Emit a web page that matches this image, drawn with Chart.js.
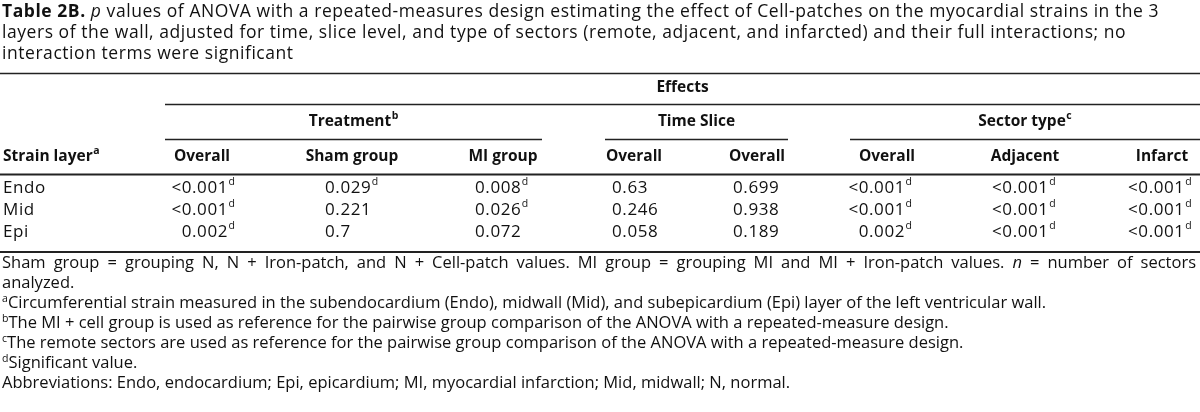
<!DOCTYPE html>
<html>
<head>
<meta charset="utf-8">
<script src="https://cdn.jsdelivr.net/npm/chart.js@4.4.1/dist/chart.umd.min.js"></script>
<style>
  body { margin: 0; background: #fff; width: 1200px; height: 412px; overflow: hidden; font-family: "Open Sans", sans-serif; color: #111; }
  .wrap { position: absolute; left: 0; top: 0; width: 1200px; height: 412px; }
  #title { position: absolute; left: 2px; top: 0; font-size: 17.5px; letter-spacing: 0.55px; line-height: 21px; white-space: nowrap; }
  #notes { position: absolute; left: 2px; top: 252px; font-size: 16.5px; line-height: 20px; white-space: nowrap; }
  #notes .just { width: 1194px; text-align: justify; text-align-last: justify; }
  sup { font-size: 64%; line-height: 0; vertical-align: 0.55em; letter-spacing: 0; }
</style>
</head>
<body>
<div class="wrap"><canvas id="myChart"></canvas></div>
<div id="title">
  <b>Table 2B.</b> <i>p</i> values of ANOVA with a repeated-measures design estimating the effect of Cell-patches on the myocardial strains in the 3<br>
  layers of the wall, adjusted for time, slice level, and type of sectors (remote, adjacent, and infarcted) and their full interactions; no<br>
  interaction terms were significant
</div>
<div id="notes">
  <div class="just">Sham group = grouping N, N + Iron-patch, and N + Cell-patch values. MI group = grouping MI and MI + Iron-patch values. <i>n</i> = number of sectors</div>
  analyzed.<br>
  <sup>a</sup>Circumferential strain measured in the subendocardium (Endo), midwall (Mid), and subepicardium (Epi) layer of the left ventricular wall.<br>
  <sup>b</sup>The MI + cell group is used as reference for the pairwise group comparison of the ANOVA with a repeated-measure design.<br>
  <sup>c</sup>The remote sectors are used as reference for the pairwise group comparison of the ANOVA with a repeated-measure design.<br>
  <sup>d</sup>Significant value.<br>
  Abbreviations: Endo, endocardium; Epi, epicardium; MI, myocardial infarction; Mid, midwall; N, normal.
</div>
<script>
// table content
const layers = ["Endo", "Mid", "Epi"];
const layerHeader = "Strain layer";
const effectsLabel = "Effects";
const groupLabels = ["Treatment", "Time Slice", "Sector type"];
const groupNotes = ["b", "", "c"];
const columnLabels = ["Overall", "Sham group", "MI group", "Overall", "Overall", "Overall", "Adjacent", "Infarct"];

// p values, rows in the order of layers
const treatOverall = ["<0.001", "<0.001", "0.002"];
const treatSham = ["0.029", "0.221", "0.7"];
const treatMI = ["0.008", "0.026", "0.072"];
const timeOverall = ["0.63", "0.246", "0.058"];
const sliceOverall = ["0.699", "0.938", "0.189"];
const sectorOverall = ["<0.001", "<0.001", "0.002"];
const sectorAdjacent = ["<0.001", "<0.001", "<0.001"];
const sectorInfarct = ["<0.001", "<0.001", "<0.001"];

const columns = [treatOverall, treatSham, treatMI, timeOverall, sliceOverall, sectorOverall, sectorAdjacent, sectorInfarct];
const isSignificant = (p) => p.startsWith("<") || parseFloat(p) < 0.05;

// layout of the table (x scale runs 0..1200)
const colAnchor = [235, 325, 475, 612, 733, 912, 992, 1128];
const colAlign = ["right", "left", "left", "left", "left", "right", "left", "left"];
const colCenter = [202, 352, 503, 634, 757, 887, 1025, 1162];
const groupSpan = [[165, 542], [605, 788], [850, 1200]];
const effectsSpan = [165, 1200];
const headerY = [88, 122, 157];
const rules = [
  { y: 73.5, from: 0, to: 1200, w: 1.3 },
  { y: 104.5, from: effectsSpan[0], to: effectsSpan[1], w: 1.3 },
  { y: 139.5, from: groupSpan[0][0], to: groupSpan[0][1], w: 1.3 },
  { y: 139.5, from: groupSpan[1][0], to: groupSpan[1][1], w: 1.3 },
  { y: 139.5, from: groupSpan[2][0], to: groupSpan[2][1], w: 1.3 },
  { y: 174.5, from: 0, to: 1200, w: 2 },
  { y: 252, from: 0, to: 1200, w: 2.2 },
];

const FONT = '"Open Sans", sans-serif';
const INK = "#111";

function drawSup(ctx, text, sup, x, y, align, bold) {
  const main = bold ? `bold 15.5px ${FONT}` : `17px ${FONT}`;
  const small = `${bold ? "bold " : ""}10.5px ${FONT}`;
  const spacing = bold ? "0px" : "0.6px";
  ctx.letterSpacing = spacing;
  ctx.font = main;
  const w1 = ctx.measureText(text).width;
  ctx.letterSpacing = "0px";
  ctx.font = small;
  const w2 = sup ? ctx.measureText(sup).width + 0.5 : 0;
  let left = x;
  if (align === "right") left = x - w1 - w2;
  if (align === "center") left = x - (w1 + w2) / 2;
  ctx.textAlign = "left";
  ctx.textBaseline = "middle";
  ctx.letterSpacing = spacing;
  ctx.font = main;
  ctx.fillText(text, left, y);
  if (sup) {
    ctx.letterSpacing = "0px";
    ctx.font = small;
    ctx.fillText(sup, left + w1 + 0.5, y - 6);
  }
}

const tablePlugin = {
  id: "tableText",
  afterDraw(chart) {
    const { ctx } = chart;
    const xs = chart.scales.x;
    ctx.save();
    ctx.fillStyle = INK;
    ctx.strokeStyle = "#222";

    rules.forEach((r) => {
      ctx.lineWidth = r.w;
      ctx.beginPath();
      ctx.moveTo(xs.getPixelForValue(r.from), r.y);
      ctx.lineTo(xs.getPixelForValue(r.to), r.y);
      ctx.stroke();
    });

    drawSup(ctx, effectsLabel, "", xs.getPixelForValue((effectsSpan[0] + effectsSpan[1]) / 2), headerY[0], "center", true);
    groupLabels.forEach((g, i) => {
      const mid = (groupSpan[i][0] + groupSpan[i][1]) / 2;
      drawSup(ctx, g, groupNotes[i], xs.getPixelForValue(mid), headerY[1], "center", true);
    });
    drawSup(ctx, layerHeader, "a", xs.getPixelForValue(3), headerY[2], "left", true);
    columnLabels.forEach((c, i) => {
      drawSup(ctx, c, "", xs.getPixelForValue(colCenter[i]), headerY[2], "center", true);
    });

    chart.data.datasets.forEach((ds, di) => {
      const meta = chart.getDatasetMeta(di);
      meta.data.forEach((pt, i) => {
        const raw = ds.data[i];
        drawSup(ctx, raw.text, raw.sig ? "d" : "", pt.x, pt.y, ds.align, false);
      });
    });
    ctx.restore();
  },
};

const datasets = [
  {
    label: layerHeader,
    align: "left",
    data: layers.map((l) => ({ x: 3, y: l, text: l, sig: false })),
  },
  ...columns.map((vals, c) => ({
    label: columnLabels[c],
    align: colAlign[c],
    data: layers.map((l, i) => ({ x: colAnchor[c], y: l, text: vals[i], sig: isSignificant(vals[i]) })),
  })),
];

new Chart(document.getElementById("myChart").getContext("2d"), {
  type: "scatter",
  data: { datasets },
  options: {
    responsive: true,
    maintainAspectRatio: false,
    animation: false,
    events: [],
    elements: { point: { radius: 0, hoverRadius: 0 } },
    layout: { padding: { top: 177, bottom: 169, left: 0, right: 0 } },
    plugins: { legend: { display: false }, tooltip: { enabled: false } },
    scales: {
      x: { type: "linear", min: 0, max: 1200, display: false },
      y: { type: "category", labels: layers, offset: true, display: false },
    },
  },
  plugins: [tablePlugin],
});
</script>
</body>
</html>
